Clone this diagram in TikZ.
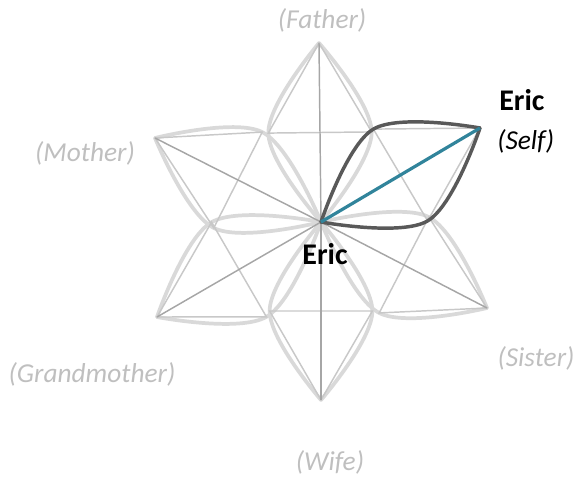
\documentclass[tikz,border=0pt]{standalone}
\usepackage{fontspec}
\setmainfont{Carlito}
\usetikzlibrary{calc}
\definecolor{lblgray}{HTML}{BFBFBF}
\definecolor{spokegray}{HTML}{A6A6A6}
\definecolor{kitegray}{HTML}{C8C8C8}
\definecolor{petalgray}{HTML}{D9D9D9}
\definecolor{selfdark}{HTML}{595959}
\definecolor{selfblue}{HTML}{31849B}
\begin{document}
\begin{tikzpicture}[x=0.75pt,y=-0.75pt,
  spokeline/.style={draw=spokegray, line width=1.1pt},
  kiteline/.style={draw=kitegray, line width=1.1pt, line join=miter},
  petalline/.style={draw=petalgray, line width=2.8pt, line cap=round},
  selfpetal/.style={draw=selfdark, line width=2.6pt, line cap=round},
  selfspoke/.style={draw=selfblue, line width=2.4pt},
  persontxt/.style={font=\bfseries\fontsize{22.5}{26}\selectfont, text=black, inner sep=0pt},
  roletxt/.style={font=\itshape\fontsize{20.5}{24}\selectfont, text=lblgray, inner sep=0pt},
  selfrole/.style={font=\itshape\fontsize{20.5}{24}\selectfont, text=black, inner sep=0pt}]
\useasboundingbox (0,0) rectangle (579,479);
\coordinate (c) at (321,222);
\coordinate (t1) at (319,43);
\coordinate (t2) at (480,128);
\coordinate (t3) at (487,308);
\coordinate (t4) at (321,400);
\coordinate (t5) at (157,317);
\coordinate (t6) at (155,138);
\foreach \i in {1,...,6}{
  \coordinate (ba\i) at ($(c)!0.57735!30:(t\i)$);
  \coordinate (bb\i) at ($(c)!0.57735!-30:(t\i)$);
}
% light petal outlines
\foreach \i in {1,3,4,5,6}{
  \draw[petalline] plot[smooth, tension=0.6] coordinates {(c) (ba\i) (t\i)};
  \draw[petalline] plot[smooth, tension=0.6] coordinates {(c) (bb\i) (t\i)};
}
% kite triangles
\foreach \i in {1,...,6}{
  \draw[kiteline] (t\i) -- (ba\i) -- (bb\i) -- cycle;
}
% spokes
\foreach \i in {1,3,4,5,6}{
  \draw[spokeline] (c) -- (t\i);
}
% self petal
\draw[selfpetal] plot[smooth, tension=0.6] coordinates {(c) (ba2) (t2)};
\draw[selfpetal] plot[smooth, tension=0.6] coordinates {(c) (bb2) (t2)};
\draw[selfspoke] (c) -- (t2);
% labels
\node[roletxt] (father) at (322,20) {(Father)};
\node[roletxt] (mother) at (85,153) {(Mother)};
\node[roletxt] (grandmother) at (92,374) {(Grandmother)};
\node[roletxt] (wife) at (330,462) {(Wife)};
\node[roletxt] (sister) at (536,358) {(Sister)};
\node[persontxt, anchor=west] (selfname) at (499,100) {Eric};
\node[selfrole, anchor=west] (selfrolelbl) at (497,141) {(Self)};
\node[persontxt] (centername) at (325,254) {Eric};
\end{tikzpicture}
\end{document}
